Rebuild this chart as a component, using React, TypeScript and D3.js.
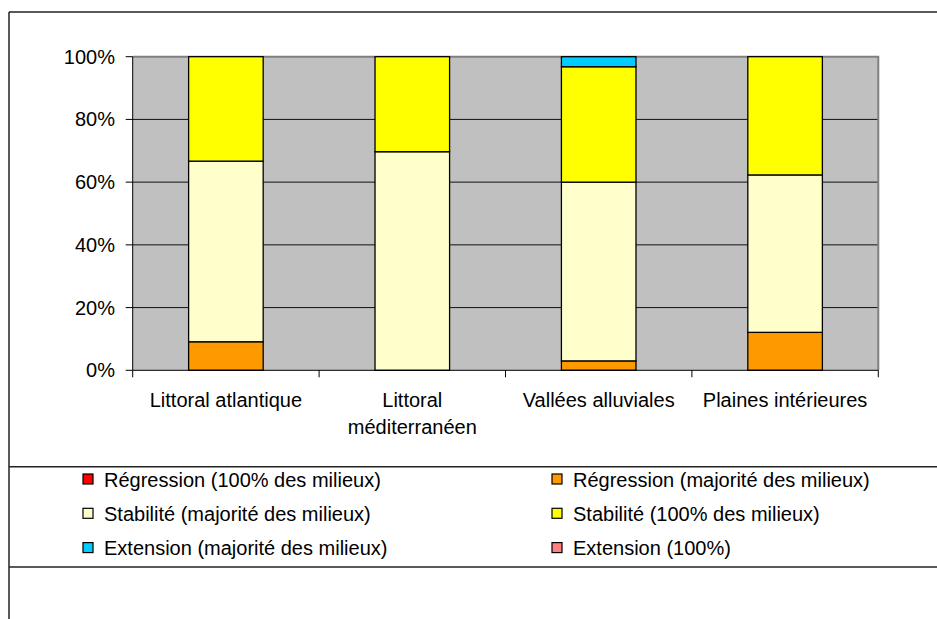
import React from "react";
import * as d3 from "d3";

const categories = ["Littoral atlantique", "Littoral méditerranéen", "Vallées alluviales", "Plaines intérieures"];
const regression100 = [0, 0, 0, 0];
const regressionMaj = [9.1, 0, 3.0, 12.1];
const stabiliteMaj = [57.6, 69.7, 57.0, 50.2];
const stabilite100 = [33.3, 30.3, 36.8, 37.7];
const extensionMaj = [0, 0, 3.2, 0];
const extension100 = [0, 0, 0, 0];
const seriesNames = [
  "Régression (100% des milieux)",
  "Régression (majorité des milieux)",
  "Stabilité (majorité des milieux)",
  "Stabilité (100% des milieux)",
  "Extension (majorité des milieux)",
  "Extension (100%)",
];
const seriesValues = [regression100, regressionMaj, stabiliteMaj, stabilite100, extensionMaj, extension100];
const seriesColors = ["#FF0000", "#FF9900", "#FFFFCC", "#FFFF00", "#00CCFF", "#FF8080"];
const yTicks = [0, 20, 40, 60, 80, 100];

const W = 937;
const H = 619;
const FONT = "'Liberation Sans', Arial, sans-serif";
const FS = 20;

function wrap(label: string, maxW: number): string[] {
  const c = document.createElement("canvas").getContext("2d");
  if (!c) return [label];
  c.font = `${FS}px ${FONT}`;
  const words = label.split(" ");
  const lines: string[] = [];
  let cur = "";
  for (const w of words) {
    const t = cur ? cur + " " + w : w;
    if (c.measureText(t).width > maxW && cur) {
      lines.push(cur);
      cur = w;
    } else cur = t;
  }
  if (cur) lines.push(cur);
  return lines;
}

export default function App() {
  const left = 132.7, right = 878.3, top = 56.7, bottom = 370.3;
  const x = d3.scaleBand<string>().domain(categories).range([left, right]).paddingInner(0.6).paddingOuter(0.3);
  const y = d3.scaleLinear().domain([0, 100]).range([bottom, top]);
  const step = x.step();

  const rows = categories.map((c, i) => {
    const o: any = { cat: c };
    seriesNames.forEach((s, j) => (o[s] = seriesValues[j][i]));
    return o;
  });
  const stacked = d3.stack<any>().keys(seriesNames)(rows);

  const catEdges = categories.map((c) => (x(c) as number) - (step - x.bandwidth()) / 2);
  catEdges.push(right);

  const legendCols = [83, 552];

  return (
    <svg width={W} height={H} style={{ position: "absolute", left: 0, top: 0, background: "#fff" }} fontFamily={FONT}>
      {/* frame */}
      <line x1={9} x2={W} y1={12} y2={12} stroke="#222" strokeWidth={1.5} />
      <line x1={9} x2={9} y1={12} y2={H} stroke="#222" strokeWidth={1.5} />
      <line x1={9} x2={W} y1={466.7} y2={466.7} stroke="#222" strokeWidth={1.5} />
      <line x1={9} x2={W} y1={567} y2={567} stroke="#222" strokeWidth={1.5} />

      {/* plot area */}
      <rect x={left} y={top} width={right - left} height={bottom - top} fill="#C0C0C0" />
      {yTicks.filter((t) => t > 0 && t < 100).map((t) => (
        <line key={t} x1={left} x2={right} y1={y(t)} y2={y(t)} stroke="#111" strokeWidth={1} />
      ))}
      <polyline points={`${left},${top} ${right},${top} ${right},${bottom}`} fill="none" stroke="#808080" strokeWidth={2} />

      {/* bars */}
      {stacked.map((layer, j) =>
        layer.map((d, i) => {
          if (d[1] - d[0] <= 0) return null;
          return (
            <rect
              key={`${j}-${i}`}
              x={x(categories[i])}
              y={y(d[1])}
              width={x.bandwidth()}
              height={y(d[0]) - y(d[1])}
              fill={seriesColors[j]}
              stroke="#000"
              strokeWidth={1.3}
            />
          );
        })
      )}

      {/* axes */}
      <line x1={left} x2={left} y1={top} y2={bottom} stroke="#000" strokeWidth={1} />
      <line x1={left} x2={right} y1={bottom} y2={bottom} stroke="#000" strokeWidth={1} />
      {yTicks.map((t) => (
        <g key={t}>
          <line x1={left - 7} x2={left} y1={y(t)} y2={y(t)} stroke="#000" />
          <text x={115} y={y(t)} dy="0.35em" textAnchor="end" fontSize={FS} fill="#000">
            {t}%
          </text>
        </g>
      ))}
      {catEdges.map((e, i) => (
        <line key={i} x1={e} x2={e} y1={bottom} y2={bottom + 7} stroke="#000" />
      ))}
      {categories.map((c) => {
        const lines = wrap(c, step - 10);
        const cx = (x(c) as number) + x.bandwidth() / 2;
        return (
          <text key={c} x={cx} y={407} textAnchor="middle" fontSize={FS} fill="#000">
            {lines.map((l, k) => (
              <tspan key={k} x={cx} dy={k === 0 ? 0 : 27}>
                {l}
              </tspan>
            ))}
          </text>
        );
      })}

      {/* legend */}
      {seriesNames.map((s, j) => {
        const col = j % 2;
        const row = Math.floor(j / 2);
        const lx = legendCols[col];
        const by = 486.5 + row * 34.3;
        return (
          <g key={s}>
            <rect x={lx} y={by - 12.5} width={10} height={10} fill={seriesColors[j]} stroke="#000" strokeWidth={1.2} />
            <text x={lx + 21} y={by} fontSize={FS} fill="#000">
              {s}
            </text>
          </g>
        );
      })}
    </svg>
  );
}
